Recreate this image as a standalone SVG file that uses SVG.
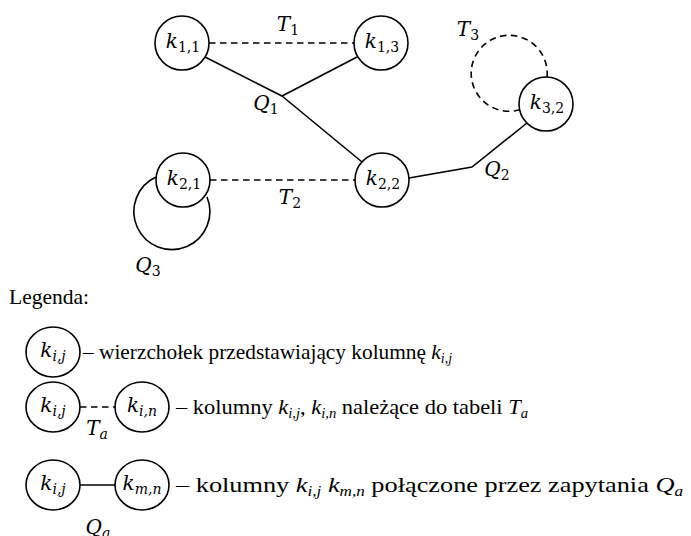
<svg xmlns="http://www.w3.org/2000/svg" width="691" height="536" viewBox="0 0 691 536">
  <style>
    .node { fill: #fff; stroke: #000; stroke-width: 1.6; }
    .edge { fill: none; stroke: #000; stroke-width: 1.6; }
    .dash { stroke-dasharray: 6.5 4.5; }
    .m { font-family: 'DejaVu Serif', 'Liberation Serif', serif; font-style: italic; font-size: 20px; fill: #000; }
    .s { font-style: normal; font-size: 14px; }
    .si { font-size: 14px; }
    .t { font-family: 'Liberation Serif', 'Times New Roman', Times, serif; font-size: 21.5px; fill: #000; }
    .ti { font-style: italic; }
    .tsub { font-size: 14px; }
  </style>

  <!-- graph edges -->
  <g id="connectors">
    <line class="edge dash" x1="209" y1="43" x2="354" y2="43"/>
    <line class="edge dash" x1="210" y1="180" x2="355" y2="180"/>
    <path class="edge dash" d="M547 77 A38 38 0 1 0 519 110"/>
    <path class="edge" d="M205 57 L282 96 L357 57"/>
    <line class="edge" x1="282" y1="96" x2="362" y2="162"/>
    <polyline class="edge" points="409,178 472,167 527,123"/>
    <path class="edge" d="M156 177 A38 38 0 1 0 207 197"/>
    <text class="m" x="288" y="31" text-anchor="middle">T<tspan class="s" dy="4">1</tspan></text>
    <text class="m" x="290" y="204" text-anchor="middle">T<tspan class="s" dy="4">2</tspan></text>
    <text class="m" x="468" y="36" text-anchor="middle">T<tspan class="s" dy="4">3</tspan></text>
    <text class="m" x="266" y="110" text-anchor="middle">Q<tspan class="s" dy="4">1</tspan></text>
    <text class="m" x="497" y="176" text-anchor="middle">Q<tspan class="s" dy="4">2</tspan></text>
    <text class="m" x="148" y="272" text-anchor="middle">Q<tspan class="s" dy="4">3</tspan></text>
  </g>

  <!-- graph vertices -->
  <g id="k11">
    <circle class="node" cx="182" cy="43" r="27"/>
    <text class="m" x="183" y="48" text-anchor="middle">k<tspan class="s" dy="4">1,1</tspan></text>
  </g>
  <g id="k13">
    <circle class="node" cx="381" cy="43" r="27"/>
    <text class="m" x="382" y="48" text-anchor="middle">k<tspan class="s" dy="4">1,3</tspan></text>
  </g>
  <g id="k21">
    <circle class="node" cx="183" cy="180" r="27"/>
    <text class="m" x="184" y="185" text-anchor="middle">k<tspan class="s" dy="4">2,1</tspan></text>
  </g>
  <g id="k22">
    <circle class="node" cx="382" cy="180" r="27"/>
    <text class="m" x="383" y="185" text-anchor="middle">k<tspan class="s" dy="4">2,2</tspan></text>
  </g>
  <g id="k32">
    <circle class="node" cx="546" cy="104" r="27"/>
    <text class="m" x="547" y="109" text-anchor="middle">k<tspan class="s" dy="4">3,2</tspan></text>
  </g>

  <!-- legend -->
  <g id="legend">
    <text class="t" x="9" y="304">Legenda:</text>

    <g id="legend-vertex">
      <ellipse class="node" cx="53" cy="352" rx="27" ry="25"/>
      <text class="m" x="53" y="357" text-anchor="middle">k<tspan class="si" dy="4">i,j</tspan></text>
      <text class="t" x="83" y="359" textLength="369" lengthAdjust="spacingAndGlyphs">– wierzchołek przedstawiający kolumnę <tspan class="ti">k</tspan><tspan class="ti tsub" dy="4">i,j</tspan></text>
    </g>

    <g id="legend-table">
      <line class="edge dash" x1="80" y1="407" x2="116" y2="407"/>
      <ellipse class="node" cx="53" cy="407" rx="27" ry="25"/>
      <ellipse class="node" cx="142" cy="407" rx="27" ry="25"/>
      <text class="m" x="53" y="412" text-anchor="middle">k<tspan class="si" dy="4">i,j</tspan></text>
      <text class="m" x="142" y="412" text-anchor="middle">k<tspan class="si" dy="4">i,n</tspan></text>
      <text class="m" x="97" y="435" text-anchor="middle">T<tspan class="si" dy="4">a</tspan></text>
      <text class="t" x="176" y="414" textLength="352" lengthAdjust="spacingAndGlyphs">– kolumny <tspan class="ti">k</tspan><tspan class="ti tsub" dy="4">i,j</tspan><tspan dy="-4">, </tspan><tspan class="ti">k</tspan><tspan class="ti tsub" dy="4">i,n</tspan><tspan dy="-4"> należące do tabeli </tspan><tspan class="ti">T</tspan><tspan class="ti tsub" dy="4">a</tspan></text>
    </g>

    <g id="legend-query">
      <line class="edge" x1="80" y1="485" x2="116" y2="485"/>
      <ellipse class="node" cx="53" cy="485" rx="27" ry="25"/>
      <ellipse class="node" cx="142" cy="485" rx="27" ry="25"/>
      <text class="m" x="53" y="490" text-anchor="middle">k<tspan class="si" dy="4">i,j</tspan></text>
      <text class="m" x="142" y="490" text-anchor="middle">k<tspan class="si" dy="4">m,n</tspan></text>
      <text class="m" x="98" y="534" text-anchor="middle">Q<tspan class="si" dy="4">a</tspan></text>
      <text class="t" x="176" y="492" textLength="507" lengthAdjust="spacingAndGlyphs">– kolumny <tspan class="ti">k</tspan><tspan class="ti tsub" dy="4">i,j</tspan><tspan dy="-4"> </tspan><tspan class="ti">k</tspan><tspan class="ti tsub" dy="4">m,n</tspan><tspan dy="-4"> połączone przez zapytania </tspan><tspan class="ti">Q</tspan><tspan class="ti tsub" dy="4">a</tspan></text>
    </g>
  </g>
</svg>
